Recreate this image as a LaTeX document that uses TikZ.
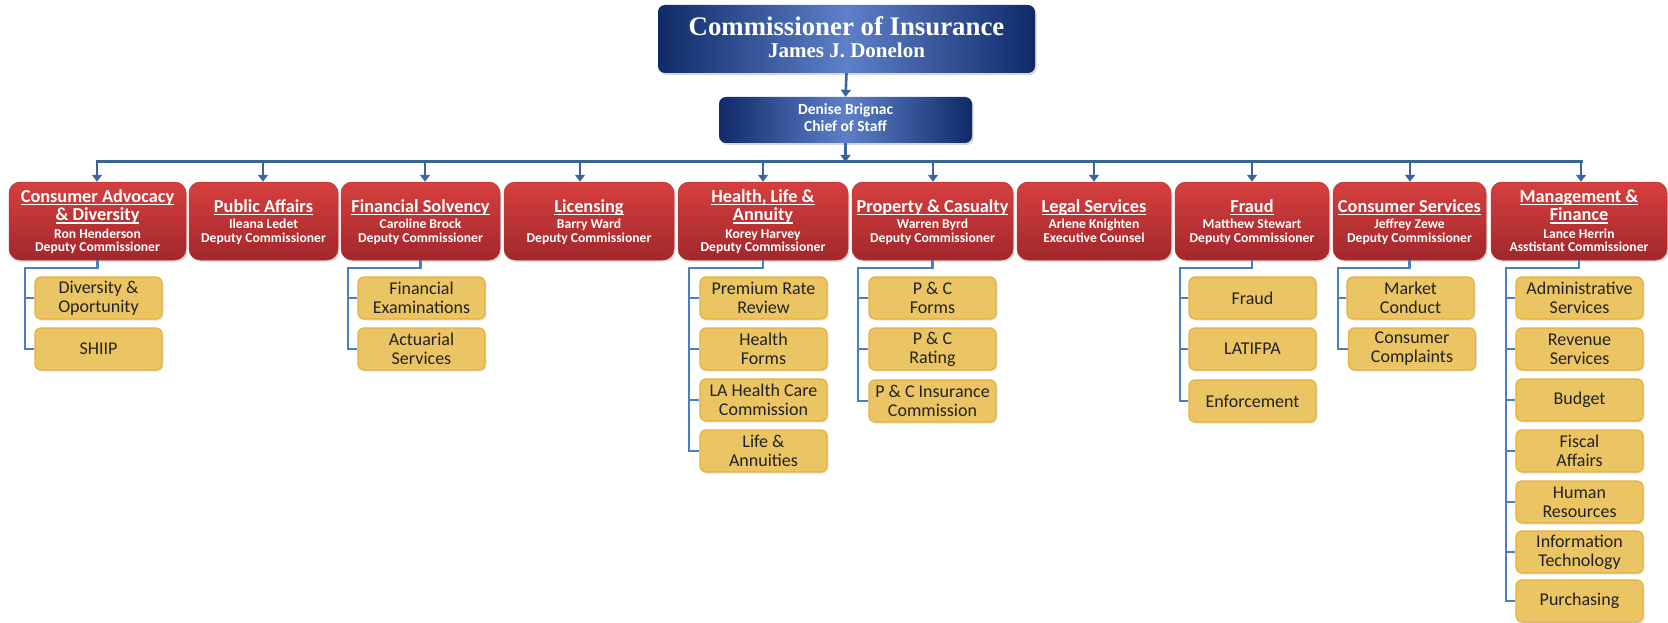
\documentclass[tikz,border=0pt]{standalone}
\usepackage{fontspec}
\setmainfont{Carlito}
\newfontfamily\serifb{Liberation Serif}
\usetikzlibrary{shadows,arrows.meta}
\definecolor{redtop}{HTML}{D6403F}
\definecolor{redbot}{HTML}{A2272B}
\definecolor{bluedark}{HTML}{102A68}
\definecolor{bluelight}{HTML}{5E80C9}
\definecolor{yfill}{HTML}{EBC463}
\definecolor{yedge}{HTML}{E5B23A}
\definecolor{busblue}{HTML}{3A6598}
\definecolor{subblue}{HTML}{4A7DC2}
\definecolor{ytext}{HTML}{222222}
\newcommand\ttul[1]{\setbox0\hbox{#1}\rlap{\rule[-2.8pt]{\wd0}{1.1pt}}\box0}
\newcommand\redA[6]{%
  \node[redbox, minimum width=#3pt] (#1) at (#2,221) {};
  \node[rtitle] at ([yshift=-30.7pt]#1.north) {\ttul{#4}};
  \node[rsub] at ([yshift=-46.3pt]#1.north) {#5};
  \node[rsub] at ([yshift=-60.7pt]#1.north) {#6};
}
\newcommand\redB[7]{%
  \node[redbox, minimum width=#3pt] (#1) at (#2,221) {};
  \node[rtitle] at ([yshift=-20.3pt]#1.north) {\ttul{#4}};
  \node[rtitle] at ([yshift=-39pt]#1.north) {\ttul{#5}};
  \node[rsub] at ([yshift=-56.3pt]#1.north) {#6};
  \node[rsub] at ([yshift=-69.7pt]#1.north) {#7};
}
\begin{document}
\begin{tikzpicture}[x=1pt,y=-1pt,
  bluebox/.style={rounded corners=7pt, left color=bluedark, right color=bluedark, middle color=bluelight, inner sep=0pt,
    drop shadow={opacity=0.3,shadow xshift=1.5pt,shadow yshift=-2pt}},
  redbox/.style={rounded corners=11pt, top color=redtop, bottom color=redbot, draw=redtop!85!black, line width=0.5pt,
    minimum height=78pt, inner sep=0pt, drop shadow={opacity=0.25,shadow xshift=1.5pt,shadow yshift=-2pt}},
  rtitle/.style={anchor=base, text=white, font=\bfseries\fontsize{18.3}{19}\selectfont, inner sep=0pt},
  rsub/.style={anchor=base, text=white, font=\bfseries\fontsize{13.6}{15}\selectfont, inner sep=0pt},
  ybox/.style={rounded corners=6pt, fill=yfill, draw=yedge, line width=1.2pt, minimum width=127pt, minimum height=42pt,
    align=center, text=ytext, font=\fontsize{18}{19}\selectfont, inner sep=0pt,
    drop shadow={opacity=0.2,shadow xshift=1.5pt,shadow yshift=-1.5pt}},
  bus/.style={draw=busblue, line width=3pt},
  arr/.style={draw=busblue, line width=2.6pt, -{Triangle[width=10pt,length=7pt]}},
  sub/.style={draw=subblue, line width=2.3pt},
]
\useasboundingbox (0,0) rectangle (1668,623);
\fill[white] (0,0) rectangle (1668,623);

% top boxes
\node[bluebox, minimum width=377pt, minimum height=68pt] (comm) at (846.5,39) {};
\node[anchor=base, text=white, font=\serifb\bfseries\fontsize{26.8}{28}\selectfont, inner sep=0pt] (commt) at ([yshift=-31pt]comm.north) {Commissioner of Insurance};
\node[anchor=base, text=white, font=\serifb\bfseries\fontsize{21}{23}\selectfont, inner sep=0pt] (commn) at ([yshift=-52.7pt]comm.north) {James J. Donelon};
\node[bluebox, minimum width=253pt, minimum height=46pt] (chief) at (845.5,120) {};
\node[anchor=base, text=white, font=\bfseries\fontsize{15.5}{17}\selectfont, inner sep=0pt] (chiefn) at ([yshift=-18pt]chief.north) {Denise Brignac};
\node[anchor=base, text=white, font=\bfseries\fontsize{15.5}{17}\selectfont, inner sep=0pt] (chiefr) at ([yshift=-34.7pt]chief.north) {Chief of Staff};

% red boxes
\redB{r1}{97.5}{177}{Consumer Advocacy}{\& Diversity}{Ron Henderson}{Deputy Commissioner}
\redA{r2}{263.5}{149}{Public Affairs}{Ileana Ledet}{Deputy Commissioner}
\redA{r3}{420.5}{159}{Financial Solvency}{Caroline Brock}{Deputy Commissioner}
\redA{r4}{589}{170}{Licensing}{Barry Ward}{Deputy Commissioner}
\redB{r5}{763}{170}{Health, Life \&}{Annuity}{Korey Harvey}{Deputy Commissioner}
\redA{r6}{932.5}{161}{Property \& Casualty}{Warren Byrd}{Deputy Commissioner}
\redA{r7}{1094}{154}{Legal Services}{Arlene Knighten}{Executive Counsel}
\redA{r8}{1252}{154}{Fraud}{Matthew Stewart}{Deputy Commissioner}
\redA{r9}{1409.5}{153}{Consumer Services}{Jeffrey Zewe}{Deputy Commissioner}
\redB{r10}{1579}{176}{Management \&}{Finance}{Lance Herrin}{Asstistant Commissioner}

% bus and arrows
\coordinate (a1) at (97,162);
\coordinate (a2) at (263,162);
\coordinate (a3) at (425,162);
\coordinate (a4) at (580,162);
\coordinate (a5) at (763,162);
\coordinate (a6) at (933,162);
\coordinate (a7) at (1094,162);
\coordinate (a8) at (1252,162);
\coordinate (a9) at (1410,162);
\coordinate (a10) at (1581,162);
\draw[arr] (comm.south) -- (chief.north);
\draw[bus] ([xshift=-1.5pt]a1) -- ([xshift=1.5pt]a10);
\draw[arr] (chief.south) -- (chief.south |- a1);
\foreach \i in {1,...,10} \draw[arr] (a\i) -- (a\i |- r\i.north);

% yellow boxes
\node[ybox] (y1a) at (98.5,298) {Diversity \&\\Oportunity};
\node[ybox] (y1b) at (98.5,349) {SHIIP};
\node[ybox] (y3a) at (421.5,298) {Financial\\Examinations};
\node[ybox] (y3b) at (421.5,349) {Actuarial\\Services};
\node[ybox] (y5a) at (763.5,298) {Premium Rate\\Review};
\node[ybox] (y5b) at (763.5,349) {Health\\Forms};
\node[ybox] (y5c) at (763.5,400) {LA Health Care\\Commission};
\node[ybox] (y5d) at (763.5,451) {Life \&\\Annuities};
\node[ybox] (y6a) at (932.5,298) {P \& C\\Forms};
\node[ybox] (y6b) at (932.5,349) {P \& C\\Rating};
\node[ybox] (y6c) at (932.5,401) {P \& C Insurance\\Commission};
\node[ybox] (y8a) at (1252.5,298) {Fraud};
\node[ybox] (y8b) at (1252.5,349) {LATIFPA};
\node[ybox] (y8c) at (1252.5,401) {Enforcement};
\node[ybox] (y9a) at (1410.5,298) {Market\\Conduct};
\node[ybox] (y9b) at (1412,349) {Consumer\\Complaints};
\node[ybox] (y10a) at (1579.5,298) {Administrative\\Services};
\node[ybox] (y10b) at (1579.5,349) {Revenue\\Services};
\node[ybox] (y10c) at (1579.5,400) {Budget};
\node[ybox] (y10d) at (1579.5,451) {Fiscal\\Affairs};
\node[ybox] (y10e) at (1579.5,502) {Human\\Resources};
\node[ybox] (y10f) at (1579.5,552) {Information\\Technology};
\node[ybox] (y10g) at (1579.5,601) {Purchasing};

% sub connectors
\coordinate (v1) at (25,268);
\coordinate (v3) at (348,268);
\coordinate (v5) at (689,268);
\coordinate (v6) at (858,268);
\coordinate (v8) at (1180,268);
\coordinate (v9) at (1338,268);
\coordinate (v10) at (1506,268);
\draw[sub] (r1.south) |- (v1) |- (y1b.west);
\draw[sub] (v1 |- y1a.west) -- (y1a.west);
\draw[sub] (r3.south) |- (v3) |- (y3b.west);
\draw[sub] (v3 |- y3a.west) -- (y3a.west);
\draw[sub] (r5.south) |- (v5) |- (y5d.west);
\foreach \k in {a,b,c} \draw[sub] (v5 |- y5\k.west) -- (y5\k.west);
\draw[sub] (r6.south) |- (v6) |- (y6c.west);
\foreach \k in {a,b} \draw[sub] (v6 |- y6\k.west) -- (y6\k.west);
\draw[sub] (r8.south) |- (v8) |- (y8c.west);
\foreach \k in {a,b} \draw[sub] (v8 |- y8\k.west) -- (y8\k.west);
\draw[sub] (r9.south) |- (v9) |- (y9b.west);
\draw[sub] (v9 |- y9a.west) -- (y9a.west);
\draw[sub] (r10.south) |- (v10) |- (y10g.west);
\foreach \k in {a,b,c,d,e,f} \draw[sub] (v10 |- y10\k.west) -- (y10\k.west);
\end{tikzpicture}
\end{document}
